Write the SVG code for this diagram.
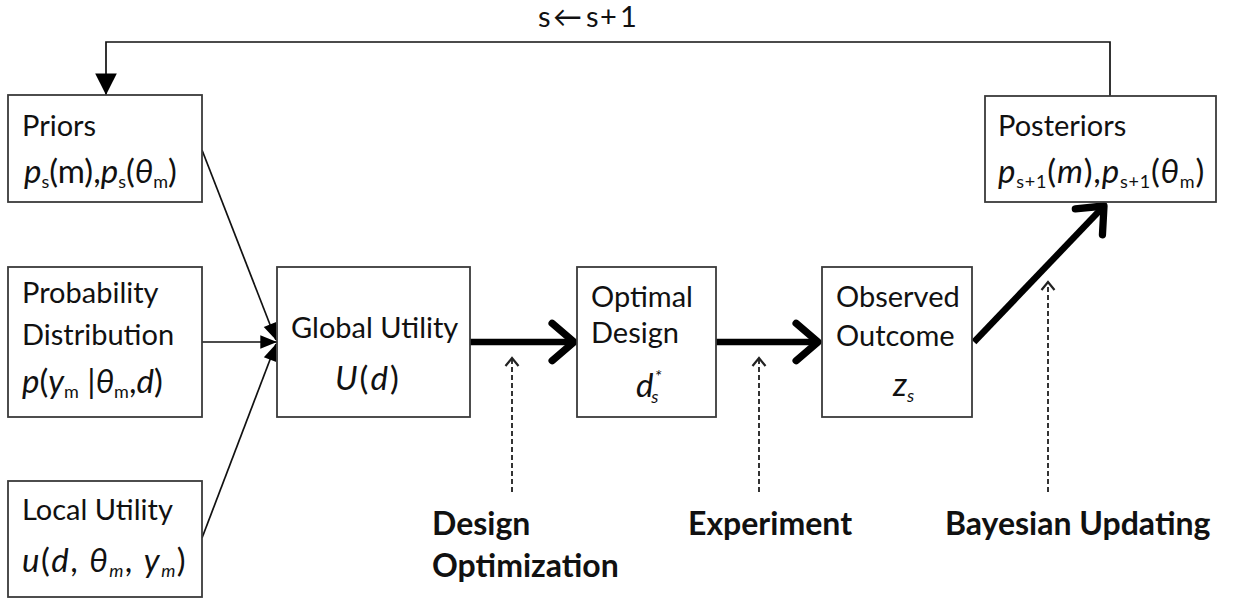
<svg xmlns="http://www.w3.org/2000/svg" width="1238" height="600" viewBox="0 0 1238 600">
<style>
  .box { fill: #fff; stroke: #3a3a3a; stroke-width: 1.8; }
  .t { font-family: Lato, "Liberation Sans", sans-serif; font-size: 29px; fill: #111; }
  .m { font-family: Lato, "Liberation Sans", sans-serif; font-size: 33px; fill: #111; }
  .i { font-style: italic; }
  .sub { font-size: 18px; }
  .b { font-family: Lato, "Liberation Sans", sans-serif; font-size: 32px; font-weight: bold; fill: #111; }
  .thin { fill: none; stroke: #111; stroke-width: 1.7; }
  .thick { fill: none; stroke: #000; stroke-width: 6.5; }
  .dash { fill: none; stroke: #333; stroke-width: 2; stroke-dasharray: 5 3; }
</style>
<defs>
  <marker id="tri" markerUnits="userSpaceOnUse" markerWidth="20" markerHeight="20" viewBox="-16 -8 18 16" refX="0" refY="0" orient="auto">
    <path d="M-15,-6 L0,0 L-15,6 Z" fill="#000"/>
  </marker>
  <marker id="tribig" markerUnits="userSpaceOnUse" markerWidth="24" markerHeight="24" viewBox="-19 -10 20 20" refX="0" refY="0" orient="auto">
    <path d="M-18,-9 L0,0 L-18,9 Z" fill="#000"/>
  </marker>
  <marker id="chev" markerUnits="userSpaceOnUse" markerWidth="40" markerHeight="50" viewBox="-26 -24 32 48" refX="0" refY="0" orient="auto">
    <path d="M-21,-18 L0,0 L-21,18" fill="none" stroke="#000" stroke-width="7" stroke-linecap="round" stroke-linejoin="round"/>
  </marker>
  <marker id="open" markerUnits="userSpaceOnUse" markerWidth="16" markerHeight="18" viewBox="-11 -9 13 18" refX="0" refY="0" orient="auto">
    <path d="M-8,-6.5 L0,0 L-8,6.5" fill="none" stroke="#222" stroke-width="2.2"/>
  </marker>
</defs>

<g id="connectors">
  <polyline class="thin" points="1110,96 1110,42 106,42 106,95" marker-end="url(#tribig)"/>
  <line class="thin" x1="202" y1="150" x2="276" y2="340" marker-end="url(#tri)"/>
  <line class="thin" x1="202" y1="342" x2="277" y2="342" marker-end="url(#tri)"/>
  <line class="thin" x1="202" y1="538" x2="276" y2="344" marker-end="url(#tri)"/>
  <line class="thick" x1="470" y1="342" x2="574" y2="342" marker-end="url(#chev)"/>
  <line class="thick" x1="716" y1="342" x2="818" y2="342" marker-end="url(#chev)"/>
  <line class="thick" x1="974" y1="342" x2="1104" y2="206" marker-end="url(#chev)"/>
  <line class="dash" x1="512" y1="492" x2="512" y2="358" marker-end="url(#open)"/>
  <line class="dash" x1="759" y1="492" x2="759" y2="358" marker-end="url(#open)"/>
  <line class="dash" x1="1048" y1="492" x2="1048" y2="282" marker-end="url(#open)"/>
  <text class="t" y="27" font-size="23"><tspan x="538">s</tspan><tspan x="553">←</tspan><tspan x="586">s</tspan><tspan x="600">+</tspan><tspan x="620">1</tspan></text>
</g>

<g id="priors">
  <rect class="box" x="8" y="95" width="194" height="107"/>
  <text class="t" x="22" y="136">Priors</text>
  <text class="m" x="24" y="183" font-size="31"><tspan class="i">p</tspan><tspan class="sub" dy="5">s</tspan><tspan dy="-5">(m),</tspan><tspan class="i">p</tspan><tspan class="sub" dy="5">s</tspan><tspan dy="-5">(</tspan><tspan class="i">θ</tspan><tspan class="sub" dy="5">m</tspan><tspan dy="-5">)</tspan></text>
</g>

<g id="probability">
  <rect class="box" x="8" y="267" width="194" height="150"/>
  <text class="t" x="22" y="303">Probability</text>
  <text class="t" x="22" y="345">Distribution</text>
  <text class="m" x="22" y="393"><tspan class="i">p</tspan>(<tspan class="i">y</tspan><tspan class="sub" dy="5">m</tspan><tspan dy="-5"> |</tspan><tspan class="i">θ</tspan><tspan class="sub" dy="5">m</tspan><tspan dy="-5">,</tspan><tspan class="i">d</tspan>)</text>
</g>

<g id="local-utility">
  <rect class="box" x="8" y="481" width="194" height="116"/>
  <text class="t" x="22" y="520">Local Utility</text>
  <text class="m" x="22" y="572" font-size="38" letter-spacing="1.5"><tspan class="i">u</tspan>(<tspan class="i">d</tspan>, <tspan class="i">θ</tspan><tspan class="sub i" font-size="20" dy="5">m</tspan><tspan dy="-5">, </tspan><tspan class="i">y</tspan><tspan class="sub i" font-size="20" dy="5">m</tspan><tspan dy="-5">)</tspan></text>
</g>

<g id="global-utility">
  <rect class="box" x="277" y="267" width="193" height="150"/>
  <text class="t" x="291" y="338">Global Utility</text>
  <text class="m" x="335" y="390" font-size="36" letter-spacing="2"><tspan class="i">U</tspan>(<tspan class="i">d</tspan>)</text>
</g>

<g id="optimal-design">
  <rect class="box" x="577" y="267" width="139" height="150"/>
  <text class="t" x="591" y="307">Optimal</text>
  <text class="t" x="591" y="343">Design</text>
  <text class="m" x="636" y="397" font-size="34"><tspan class="i">d</tspan><tspan class="sub i" font-size="22" dx="1" dy="-14">*</tspan><tspan class="sub i" dx="-10" dy="20">s</tspan></text>
</g>

<g id="observed-outcome">
  <rect class="box" x="822" y="267" width="150" height="150"/>
  <text class="t" x="836" y="307">Observed</text>
  <text class="t" x="836" y="346">Outcome</text>
  <text class="m" x="893" y="396" font-size="37"><tspan class="i">z</tspan><tspan class="sub i" font-size="20" dy="6">s</tspan></text>
</g>

<g id="posteriors">
  <rect class="box" x="985" y="96" width="231" height="106"/>
  <text class="t" x="998" y="136">Posteriors</text>
  <text class="m" x="998" y="183" font-size="35" letter-spacing="0.8"><tspan class="i">p</tspan><tspan class="sub" dy="5">s+1</tspan><tspan dy="-5">(</tspan><tspan class="i">m</tspan>),<tspan class="i">p</tspan><tspan class="sub" dy="5">s+1</tspan><tspan dy="-5">(</tspan><tspan class="i">θ</tspan><tspan class="sub" dy="5">m</tspan><tspan dy="-5">)</tspan></text>
</g>

<g id="labels">
  <text class="b" x="432" y="535">Design</text>
  <text class="b" x="432" y="577">Optimization</text>
  <text class="b" x="688" y="535">Experiment</text>
  <text class="b" x="945" y="535">Bayesian Updating</text>
</g>
</svg>
